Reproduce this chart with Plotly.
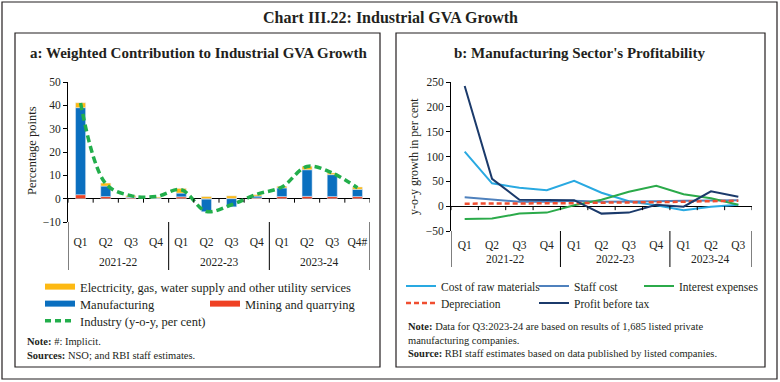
import plotly.graph_objects as go

# ---------------- data: panel a ----------------
years_a = ["2021-22"] * 4 + ["2022-23"] * 4 + ["2023-24"] * 4
quarters_a = ["Q1", "Q2", "Q3", "Q4", "Q1", "Q2", "Q3", "Q4", "Q1", "Q2", "Q3", "Q4#"]
mining = [1.7, 0.9, 0.4, 0.2, 0.8, -0.2, 0.1, 0.3, 0.9, 1.0, 0.9, 0.9]
manufacturing = [37.3, 4.5, 0.3, 0.1, 1.6, -5.4, -3.5, 0.8, 3.7, 11.4, 9.4, 3.1]
electricity = [2.1, 1.3, 0.6, 0.4, 2.0, 0.9, 1.1, 0.6, 0.7, 1.5, 0.7, 1.0]
industry = [41.0, 6.4, 1.3, 0.9, 3.8, -5.5, -2.6, 1.9, 5.0, 13.8, 11.0, 4.7]

# ---------------- data: panel b ----------------
years_b = ["2021-22"] * 4 + ["2022-23"] * 4 + ["2023-24"] * 3
quarters_b = ["Q1", "Q2", "Q3", "Q4", "Q1", "Q2", "Q3", "Q4", "Q1", "Q2", "Q3"]
raw_materials = [110, 46, 37, 32, 51, 27, 10, 2, -8, -1, 3]
staff_cost = [18, 14, 9, 9, 11, 9, 9, 10, 11, 11, 12]
interest = [-26, -25, -15, -13, 2, 13, 29, 41, 24, 16, 3]
depreciation = [5, 5, 6, 5, 6, 7, 7, 8, 9, 10, 11]
profit = [242, 55, 13, 13, 12, -15, -13, 3, -1, 30, 19]

C_ELEC = "#FDB913"
C_MANU = "#0A6FBF"
C_MINE = "#EF4123"
C_IND = "#22AE4B"
C_RAW = "#29A9E1"
C_STAFF = "#4F81BD"
C_INT = "#2BAA4A"
C_DEP = "#F04E30"
C_PBT = "#1B3A6B"

SERIF = "Liberation Serif"
TXT = "#231F20"
W, H = 780, 382


def px(x):
    return x / W


def py(y):
    return 1 - y / H


xa = list(range(len(quarters_a)))
xb = list(range(len(quarters_b)))

fig = go.Figure()

# panel a bars (stacked)
fig.add_bar(x=xa, y=mining, marker_color=C_MINE, width=0.4, showlegend=False,
            xaxis="x", yaxis="y")
fig.add_bar(x=xa, y=manufacturing, marker_color=C_MANU, width=0.4, showlegend=False,
            xaxis="x", yaxis="y")
fig.add_bar(x=xa, y=electricity, marker_color=C_ELEC, width=0.4, showlegend=False,
            xaxis="x", yaxis="y")
fig.add_scatter(x=xa, y=industry, mode="lines", showlegend=False,
                line=dict(color=C_IND, width=3.5, dash="7px,4px", shape="spline", smoothing=1),
                xaxis="x", yaxis="y")

# legend entries panel a (line swatches in bar colours)
fig.add_scatter(x=[None], y=[None], mode="lines", name="Electricity, gas, water supply and other utility services",
                line=dict(color=C_ELEC, width=6), legend="legend", xaxis="x", yaxis="y")
fig.add_scatter(x=[None], y=[None], mode="lines", name="Manufacturing",
                line=dict(color=C_MANU, width=6), legend="legend2", xaxis="x", yaxis="y")
fig.add_scatter(x=[None], y=[None], mode="lines", name="Mining and quarrying",
                line=dict(color=C_MINE, width=6), legend="legend3", xaxis="x", yaxis="y")
fig.add_scatter(x=[None], y=[None], mode="lines", name="Industry (y-o-y, per cent)",
                line=dict(color=C_IND, width=3.5, dash="6px,4px"), legend="legend4", xaxis="x", yaxis="y")

# panel b lines
fig.add_scatter(x=xb, y=raw_materials, mode="lines", name="Cost of raw materials",
                line=dict(color=C_RAW, width=2), legend="legend5", xaxis="x2", yaxis="y2")
fig.add_scatter(x=xb, y=staff_cost, mode="lines", name="Staff cost",
                line=dict(color=C_STAFF, width=2), legend="legend6", xaxis="x2", yaxis="y2")
fig.add_scatter(x=xb, y=interest, mode="lines", name="Interest expenses",
                line=dict(color=C_INT, width=2), legend="legend7", xaxis="x2", yaxis="y2")
fig.add_scatter(x=xb, y=depreciation, mode="lines", name="Depreciation",
                line=dict(color=C_DEP, width=2.5, dash="5px,3px"), legend="legend8", xaxis="x2", yaxis="y2")
fig.add_scatter(x=xb, y=profit, mode="lines", name="Profit before tax",
                line=dict(color=C_PBT, width=2), legend="legend9", xaxis="x2", yaxis="y2")

tickfont = dict(family=SERIF, size=11.5, color=TXT)
xcommon = dict(showline=False, ticks="outside", tickcolor="rgba(0,0,0,0)",
               showgrid=False, zeroline=False, tickfont=tickfont, fixedrange=True)
ycommon = dict(showline=True, linecolor="#000", linewidth=1, ticks="outside", ticklen=4,
               tickcolor="#000", showgrid=False, zeroline=True, zerolinecolor="#000",
               zerolinewidth=1, tickfont=tickfont, fixedrange=True)


def leg(x, y, size):
    return dict(x=px(x), y=py(y), xref="container", yref="container",
                xanchor="left", yanchor="middle", orientation="v",
                font=dict(family=SERIF, size=size, color=TXT), bgcolor="rgba(0,0,0,0)",
                itemwidth=30, tracegroupgap=0, itemclick=False, borderwidth=0)


fig.update_layout(
    width=W, height=H, margin=dict(l=0, r=0, t=0, b=0, autoexpand=False),
    paper_bgcolor="white", plot_bgcolor="white",
    barmode="relative", bargap=0.6,
    xaxis=dict(domain=[px(68), px(370)], anchor="y", range=[-0.5, len(xa) - 0.5],
               tickvals=xa, ticktext=quarters_a, ticklen=9, **xcommon),
    yaxis=dict(domain=[py(222), py(82)], anchor="x", range=[-10, 50], dtick=10, **ycommon),
    xaxis2=dict(domain=[px(451), px(752)], anchor="y2", range=[-0.5, len(xb) - 0.5],
                tickvals=xb, ticktext=quarters_b, ticklen=3, **xcommon),
    yaxis2=dict(domain=[py(231), py(82)], anchor="x2", range=[-50, 250], dtick=50, **ycommon),
    legend=leg(40, 287, 12.5),
    legend2=leg(40, 304, 12.5),
    legend3=leg(205, 304, 12.5),
    legend4=leg(40, 321, 12.5),
    legend5=leg(401, 286, 11.5),
    legend6=leg(534, 286, 11.5),
    legend7=leg(639, 286, 11.5),
    legend8=leg(401, 303, 11.5),
    legend9=leg(534, 303, 11.5),
)

shapes = []
ann = []
# frames
shapes.append(dict(type="rect", xref="paper", yref="paper", x0=px(2), x1=px(777), y0=py(379), y1=py(2),
                   line=dict(color="#231F20", width=1.2)))
shapes.append(dict(type="rect", xref="paper", yref="paper", x0=px(15), x1=px(380), y0=py(367), y1=py(33),
                   line=dict(color="#231F20", width=1.2)))
shapes.append(dict(type="rect", xref="paper", yref="paper", x0=px(396), x1=px(765), y0=py(367), y1=py(33),
                   line=dict(color="#231F20", width=1.2)))

# zero-line ticks, group dividers and year labels, derived from the category lists
for xr, yr, years, div_len, year_off in (("x", "y", years_a, 48, 40), ("x2", "y2", years_b, 36, 28)):
    n = len(years)
    for k in range(n + 1):
        shapes.append(dict(type="line", xref=xr, yref=yr, x0=k - 0.5, x1=k - 0.5,
                           ysizemode="pixel", yanchor=0, y0=0, y1=-4,
                           line=dict(color="#000", width=1)))
    starts = [i for i in range(n) if i == 0 or years[i] != years[i - 1]]
    bounds = starts + [n]
    for b in bounds:
        shapes.append(dict(type="line", xref=xr, yref=yr + " domain", x0=b - 0.5, x1=b - 0.5,
                           ysizemode="pixel", yanchor=0, y0=0, y1=-div_len,
                           line=dict(color="#000", width=1)))
    for s, e in zip(bounds[:-1], bounds[1:]):
        ann.append(dict(text=years[s], x=(s + e - 1) / 2, xref=xr, y=0, yref=yr + " domain",
                        yshift=-year_off, showarrow=False, xanchor="center", yanchor="middle",
                        font=tickfont))
fig.update_layout(shapes=shapes)

ann.append(dict(text="<b>Chart III.22: Industrial GVA Growth</b>", x=0.5, y=py(17), xref="paper", yref="paper",
                showarrow=False, font=dict(family=SERIF, size=16, color=TXT), xanchor="center", yanchor="middle"))
ann.append(dict(text="<b>a: Weighted Contribution to Industrial GVA Growth</b>", x=px(198), y=py(53),
                xref="paper", yref="paper", showarrow=False, font=dict(family=SERIF, size=15, color=TXT),
                xanchor="center", yanchor="middle"))
ann.append(dict(text="<b>b: Manufacturing Sector's Profitability</b>", x=px(579), y=py(53),
                xref="paper", yref="paper", showarrow=False, font=dict(family=SERIF, size=15, color=TXT),
                xanchor="center", yanchor="middle"))
ann.append(dict(text="Percentage points", x=px(32), y=py(151), xref="paper", yref="paper", textangle=-90,
                showarrow=False, font=dict(family=SERIF, size=12.5, color=TXT), xanchor="center", yanchor="middle"))
ann.append(dict(text="y-o-y growth in per cent", x=px(414), y=py(157), xref="paper", yref="paper", textangle=-90,
                showarrow=False, font=dict(family=SERIF, size=12, color=TXT), xanchor="center", yanchor="middle"))
notefont = dict(family=SERIF, size=10.5, color=TXT)
ann.append(dict(text="<b>Note:</b> #: Implicit.<br><b>Sources:</b> NSO; and RBI staff estimates.",
                x=px(25), y=py(334), xref="paper", yref="paper", showarrow=False, align="left",
                xanchor="left", yanchor="top", font=notefont))
ann.append(dict(text="<b>Note:</b> Data for Q3:2023-24 are based on results of 1,685 listed private<br>"
                     "manufacturing companies.<br>"
                     "<b>Source:</b> RBI staff estimates based on data published by listed companies.",
                x=px(406), y=py(319), xref="paper", yref="paper", showarrow=False, align="left",
                xanchor="left", yanchor="top", font=notefont))
fig.update_layout(annotations=ann)

fig.write_html("out.html", config={"displayModeBar": False, "staticPlot": True},
               post_script="document.body.style.margin='0';document.body.style.padding='0';")
